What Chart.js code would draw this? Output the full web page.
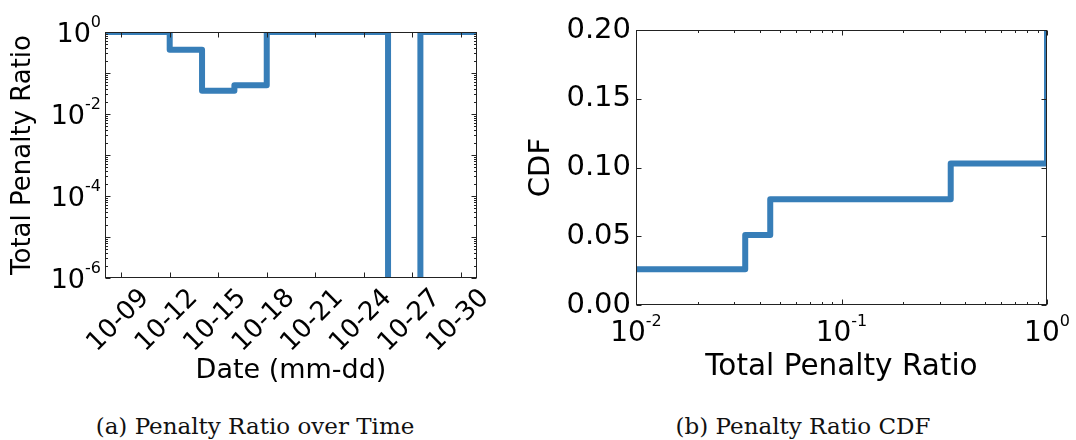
<!DOCTYPE html>
<html>
<head>
<meta charset="utf-8">
<script src="https://cdn.jsdelivr.net/npm/chart.js@4.4.0/dist/chart.umd.min.js"></script>
<style>
  html, body { margin: 0; padding: 0; background: #fff; }
  #page { position: relative; width: 1076px; height: 440px; overflow: hidden; }
  canvas { position: absolute; top: 0; }
  #timeChart { left: 0; }
  #cdfChart { left: 520px; }
  .caption {
    position: absolute; top: 415px; white-space: nowrap;
    font-family: "DejaVu Serif", "Liberation Serif", serif;
    font-size: 23px; line-height: 23px; color: #111; transform: translateX(-50%);
  }
</style>
</head>
<body>
<div id="page">
  <canvas id="timeChart" width="520" height="400"></canvas>
  <canvas id="cdfChart" width="556" height="400"></canvas>
  <div class="caption" style="left:255px">(a) Penalty Ratio over Time</div>
  <div class="caption" style="left:803px">(b) Penalty Ratio CDF</div>
</div>
<script>
// penalty ratio per period, day of October where each value starts
const penaltyDays = [8, 12, 14, 16, 18, 25.5, 27.5, 31];
const penaltyRatio = [1, 0.37, 0.037, 0.05, 1, 0, 1, 1];

// date axis ticks (day of October) and their labels
const dateTickDays = [9, 12, 15, 18, 21, 24, 27, 30];
const dateTickLabels = ['10-09', '10-12', '10-15', '10-18', '10-21', '10-24', '10-27', '10-30'];

// empirical CDF of the penalty ratio
const cdfRatio = [0, 0.034, 0.045, 0.34, 1];
const cdfValue = [0.026, 0.051, 0.077, 0.103, 1];

const cdfTicks = [0, 0.05, 0.10, 0.15, 0.20];

const BLUE = '#377eb8';
const FONT = '"DejaVu Sans", sans-serif';
// zero ratios have no place on a log axis, push them far below it
const LOG_FLOOR = 1e-12;

function decades(from, to) {
  const out = [];
  for (let e = from; e <= to; e++) out.push(Math.pow(10, e));
  return out;
}
function minorLog(from, to) {
  const out = [];
  for (let e = from; e < to; e++) {
    for (let m = 2; m <= 9; m++) out.push(m * Math.pow(10, e));
  }
  return out;
}

// box round the plot area with inward ticks on all four sides
const frameTicks = {
  id: 'frameTicks',
  afterDatasetsDraw(chart, args, opts) {
    const { ctx, chartArea: a } = chart;
    const xs = chart.scales.x, ys = chart.scales.y;
    ctx.save();
    ctx.strokeStyle = '#222';
    ctx.lineWidth = 1;
    const L = Math.round(a.left) + 0.5, R = Math.round(a.right) - 0.5;
    const T = Math.round(a.top) + 0.5, B = Math.round(a.bottom) - 0.5;
    ctx.strokeRect(L, T, R - L, B - T);
    ctx.beginPath();
    const vTick = (v, len) => {
      const p = Math.round(xs.getPixelForValue(v)) + 0.5;
      ctx.moveTo(p, B); ctx.lineTo(p, B - len);
      ctx.moveTo(p, T); ctx.lineTo(p, T + len);
    };
    const hTick = (v, len) => {
      const p = Math.round(ys.getPixelForValue(v)) + 0.5;
      ctx.moveTo(L, p); ctx.lineTo(L + len, p);
      ctx.moveTo(R, p); ctx.lineTo(R - len, p);
    };
    (opts.xMajor || []).forEach(v => vTick(v, 5));
    (opts.xMinor || []).forEach(v => vTick(v, 2.5));
    (opts.yMajor || []).forEach(v => hTick(v, 5));
    (opts.yMinor || []).forEach(v => hTick(v, 2.5));
    ctx.stroke();
    ctx.restore();
  }
};

// "10^n" labels for log axes, drawn with a raised exponent
function powerLabel(ctx, exp, x, center, align, size) {
  const base = size + 'px ' + FONT, sup = '16px ' + FONT;
  ctx.font = base;
  const bw = ctx.measureText('10').width;
  ctx.font = sup;
  const sw = ctx.measureText(String(exp)).width;
  const left = align === 'right' ? x - bw - sw : x - (bw + sw) / 2;
  ctx.textAlign = 'left';
  ctx.textBaseline = 'alphabetic';
  ctx.font = base;
  ctx.fillText('10', left, center + 0.3645 * size);
  ctx.font = sup;
  ctx.fillText(String(exp), left + bw, center - 4.8);
}

const powerTicks = {
  id: 'powerTicks',
  afterDraw(chart, args, opts) {
    if (!opts.exponents) return;
    const { ctx, chartArea: a } = chart;
    const scale = chart.scales[opts.axis];
    ctx.save();
    ctx.fillStyle = '#000';
    opts.exponents.forEach(e => {
      const p = scale.getPixelForValue(Math.pow(10, e));
      if (opts.axis === 'y') powerLabel(ctx, e, a.left - 4, p, 'right', opts.size);
      else powerLabel(ctx, e, p, a.bottom + 25.5, 'center', opts.size);
    });
    ctx.restore();
  }
};

Chart.register(frameTicks, powerTicks);
Chart.defaults.font.family = FONT;
Chart.defaults.color = '#000';

const hidden = { display: false, drawTicks: false };

new Chart(document.getElementById('timeChart'), {
  type: 'line',
  data: {
    datasets: [{
      data: penaltyDays.map((d, i) => ({ x: d, y: penaltyRatio[i] > 0 ? penaltyRatio[i] : LOG_FLOOR })),
      borderColor: BLUE,
      borderWidth: 6,
      borderJoinStyle: 'round',
      pointRadius: 0,
      stepped: true,
      fill: false,
      clip: 0
    }]
  },
  options: {
    responsive: false,
    animation: false,
    events: [],
    layout: { padding: { top: 32, right: 43, left: 0, bottom: 0 } },
    plugins: {
      legend: { display: false },
      tooltip: { enabled: false },
      frameTicks: { xMajor: dateTickDays, yMajor: decades(-6, 0), yMinor: minorLog(-6, 0) },
      powerTicks: { axis: 'y', exponents: [0, -2, -4, -6], size: 27 }
    },
    scales: {
      x: {
        type: 'linear',
        min: 8,
        max: 31,
        grid: hidden,
        border: { display: false },
        afterBuildTicks: s => { s.ticks = dateTickDays.map(v => ({ value: v })); },
        afterFit: s => { s.height = 122; },
        ticks: {
          autoSkip: false,
          minRotation: 45,
          maxRotation: 45,
          labelOffset: 24,
          padding: 5,
          font: { size: 26 },
          callback: v => dateTickLabels[dateTickDays.indexOf(v)]
        },
        title: { display: true, text: 'Date (mm-dd)', font: { size: 27 }, padding: { top: 0, bottom: 13 } }
      },
      y: {
        type: 'logarithmic',
        min: 1e-6,
        max: 1,
        grid: hidden,
        border: { display: false },
        ticks: { display: false },
        afterFit: s => { s.width = 105; },
        title: { display: true, text: 'Total Penalty Ratio', font: { size: 26 }, padding: { top: 8, bottom: 0 } }
      }
    }
  }
});

new Chart(document.getElementById('cdfChart'), {
  type: 'line',
  data: {
    datasets: [{
      data: cdfRatio.map((r, i) => ({ x: r > 0 ? r : LOG_FLOOR, y: cdfValue[i] })),
      borderColor: BLUE,
      borderWidth: 6,
      borderJoinStyle: 'round',
      pointRadius: 0,
      stepped: true,
      fill: false,
      clip: 0
    }]
  },
  options: {
    responsive: false,
    animation: false,
    events: [],
    layout: { padding: { top: 30, right: 29, left: 0, bottom: 0 } },
    plugins: {
      legend: { display: false },
      tooltip: { enabled: false },
      frameTicks: { xMajor: decades(-2, 0), xMinor: minorLog(-2, 0), yMajor: cdfTicks },
      powerTicks: { axis: 'x', exponents: [-2, -1, 0], size: 28 }
    },
    scales: {
      x: {
        type: 'logarithmic',
        min: 0.01,
        max: 1,
        grid: hidden,
        border: { display: false },
        ticks: { display: false },
        afterFit: s => { s.height = 95; },
        title: { display: true, text: 'Total Penalty Ratio', font: { size: 29.5 }, padding: { top: 0, bottom: 14.5 } }
      },
      y: {
        type: 'linear',
        min: 0,
        max: 0.2,
        grid: hidden,
        border: { display: false },
        afterBuildTicks: s => { s.ticks = cdfTicks.map(v => ({ value: v })); },
        afterFit: s => { s.width = 116; },
        ticks: { padding: 5, font: { size: 29 }, callback: v => v.toFixed(2) },
        title: { display: true, text: 'CDF', font: { size: 29 }, padding: { top: 4, bottom: 0 } }
      }
    }
  }
});
</script>
</body>
</html>
